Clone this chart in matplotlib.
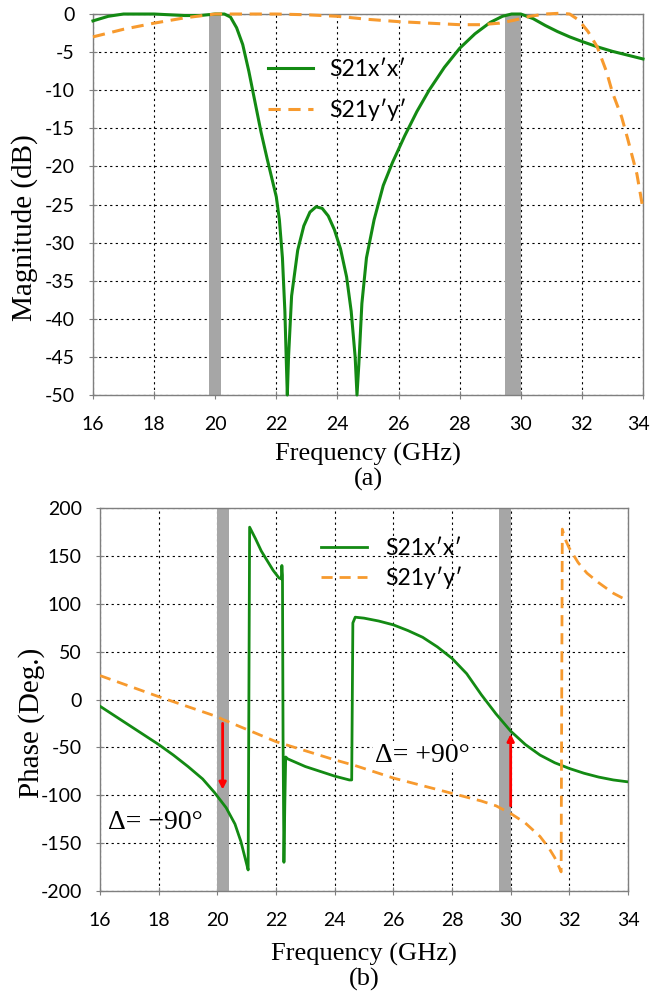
import numpy as np
import matplotlib
matplotlib.use("Agg")
import matplotlib.pyplot as plt
from matplotlib.transforms import ScaledTranslation

plt.rcParams['axes.unicode_minus'] = False

# --- magnitude (a) ---
f_mag_x = [16.0, 16.5, 17.0, 18.0, 19.0, 19.5, 20.0, 20.3, 20.5, 20.7, 20.9, 21.1, 21.3, 21.5, 21.7, 21.85,
           22.0, 22.1, 22.2, 22.28, 22.33, 22.36, 22.4, 22.5, 22.7, 22.9, 23.1, 23.3, 23.5, 23.7, 23.9,
           24.1, 24.3, 24.45, 24.58, 24.64, 24.7, 24.8, 24.95, 25.2, 25.5, 25.8, 26.2, 26.6, 27.0, 27.5,
           28.0, 28.5, 29.0, 29.4, 29.7, 30.0, 30.4, 30.8, 31.2, 31.6, 32.0, 32.5, 33.0, 33.5, 34.0]
s21_xx = [-0.9, -0.3, 0.0, 0.0, -0.2, -0.2, 0.0, 0.0, -0.4, -1.8, -4.0, -7.5, -11.5, -15.5, -19.0, -21.5,
          -24.0, -27.0, -32.0, -39.0, -46.0, -50.0, -45.0, -37.0, -31.0, -27.8, -26.0, -25.3, -25.5, -26.5, -28.3,
          -30.8, -34.5, -39.0, -45.0, -50.0, -46.0, -38.0, -32.0, -27.0, -22.5, -19.5, -16.0, -12.8, -10.0, -7.0,
          -4.5, -2.6, -1.1, -0.3, 0.0, 0.0, -0.6, -1.5, -2.3, -3.0, -3.6, -4.3, -4.9, -5.4, -5.9]

f_mag_y = [16.0, 17.0, 18.0, 19.0, 20.0, 21.0, 22.0, 23.0, 24.0, 25.0, 26.0, 27.0, 28.0, 28.7, 29.3, 29.8,
           30.3, 30.8, 31.3, 31.6, 31.9, 32.2, 32.5, 32.8, 33.0, 33.3, 33.5, 33.8, 34.0]
s21_yy = [-3.0, -2.0, -1.2, -0.5, 0.0, 0.0, 0.0, -0.1, -0.3, -0.7, -1.0, -1.2, -1.4, -1.4, -1.2, -0.8,
          -0.3, 0.0, 0.1, 0.0, -0.8, -2.3, -4.3, -7.5, -10.3, -13.5, -16.4, -21.0, -25.6]

# --- phase (b) ---
f_ph_x = [16.0, 16.5, 17.0, 17.5, 18.0, 18.5, 19.0, 19.5, 19.9, 20.3, 20.6, 20.8, 21.0, 21.05, 21.1, 21.3,
          21.5, 21.7, 21.9, 22.1, 22.18, 22.2, 22.22, 22.24, 22.27, 22.3, 22.33, 22.4, 23.0, 23.5, 24.0,
          24.5, 24.58, 24.62, 24.7, 25.0, 25.5, 26.0, 26.5, 27.0, 27.5, 28.0, 28.5, 29.0, 29.5, 30.0,
          30.5, 31.0, 31.5, 32.0, 32.5, 33.0, 33.5, 34.0]
ph_xx = [-7.0, -17.0, -27.0, -37.0, -47.0, -58.0, -70.0, -83.0, -97.0, -113.0, -130.0, -148.0, -172.0, -178.0, 180.0, 168.0,
         155.0, 145.0, 135.0, 127.0, 126.0, 140.0, 130.0, -40.0, -170.0, -110.0, -60.0, -62.0, -70.0, -75.0, -80.0,
         -84.0, -84.0, 80.0, 86.0, 85.0, 82.0, 78.0, 72.0, 65.0, 55.0, 43.0, 27.0, 5.0, -15.0, -33.0,
         -47.0, -58.0, -66.0, -72.0, -77.0, -81.0, -84.0, -86.0]

f_ph_y = [16.0, 18.0, 20.0, 20.2, 22.0, 24.0, 24.7, 26.0, 28.0, 29.0, 29.5, 30.0, 30.5, 31.0, 31.3, 31.5,
          31.65, 31.72, 31.76, 31.85, 32.0, 32.3, 32.6, 33.0, 33.5, 34.0]
ph_yy = [25.0, 3.0, -18.0, -21.0, -44.0, -63.0, -69.0, -82.0, -98.0, -106.0, -111.0, -119.0, -129.0, -143.0, -155.0, -165.0,
         -175.0, -180.0, 178.0, 168.0, 158.0, 143.0, 132.0, 122.0, 111.0, 103.0]

bands_a = [(19.8, 20.2), (29.5, 30.0)]
bands_b = [(20.0, 20.4), (29.6, 30.0)]

green = "#138a13"
orange = "#f79a2e"
band_col = "#a6a6a6"
tick_font = "Lato"
label_font = "Liberation Serif"

fig = plt.figure(figsize=(6.52, 9.94), dpi=100)
ax1 = fig.add_axes([0.1426, 0.6026, 0.8436, 0.3833])
ax2 = fig.add_axes([0.1534, 0.1036, 0.8098, 0.3853])


def style(ax, yticks):
    ax.set_xlim(16, 34)
    ax.set_xticks(np.arange(16, 35, 2))
    ax.set_yticks(yticks)
    ax.grid(True, color="black", linestyle=(0, (2, 3)), linewidth=0.8)
    ax.set_axisbelow(True)
    for s in ax.spines.values():
        s.set_color("#7f7f7f")
        s.set_linewidth(1.0)
    ax.tick_params(direction="inout", length=6, color="#7f7f7f", labelsize=14)
    ax.tick_params(axis="x", pad=12)
    ax.tick_params(axis="y", pad=10)
    for lab in ax.get_xticklabels() + ax.get_yticklabels():
        lab.set_fontfamily(tick_font)


# top panel
for a, b in bands_a:
    ax1.axvspan(a, b, color=band_col, zorder=1, lw=0)
ax1.plot(f_mag_x, s21_xx, color=green, lw=2.2, label="S21x\u2032x\u2032", zorder=3, clip_on=False)
ax1.plot(f_mag_y, s21_yy, color=orange, lw=2.2, ls=(0, (4, 2.5)), label="S21y\u2032y\u2032", zorder=3, clip_on=False)
ax1.set_ylim(-50, 0)
style(ax1, np.arange(-50, 1, 5))
ax1.set_ylabel("Magnitude (dB)", fontfamily=label_font, fontsize=21)
ax1.yaxis.set_label_coords(-0.10, 0.44)
ax1.set_xlabel("Frequency (GHz)\n(a)", fontfamily=label_font, fontsize=19, labelpad=7, linespacing=1.12)
ax1.legend(loc="upper left", bbox_to_anchor=(0.28, 0.935), frameon=False,
           prop={"family": tick_font, "size": 16.5}, handlelength=2.0, handletextpad=0.7,
           labelspacing=0.8)
last = ax1.get_xticklabels()[-1]
last.set_transform(last.get_transform() + ScaledTranslation(-5 / 100, 0, fig.dpi_scale_trans))

# bottom panel
for a, b in bands_b:
    ax2.axvspan(a, b, color=band_col, zorder=1, lw=0)
ax2.plot(f_ph_x, ph_xx, color=green, lw=2.0, label="S21x\u2032x\u2032", zorder=3)
ax2.plot(f_ph_y, ph_yy, color=orange, lw=2.0, ls=(0, (4, 2.5)), label="S21y\u2032y\u2032", zorder=3)
ax2.set_ylim(-200, 200)
style(ax2, np.arange(-200, 201, 50))
ax2.set_ylabel("Phase (Deg.)", fontfamily=label_font, fontsize=21)
ax2.yaxis.set_label_coords(-0.105, 0.44)
ax2.set_xlabel("Frequency (GHz)\n(b)", fontfamily=label_font, fontsize=19, labelpad=10, linespacing=1.12)
ax2.legend(loc="upper left", bbox_to_anchor=(0.38, 0.975), frameon=False,
           prop={"family": tick_font, "size": 16.5}, handlelength=2.0, handletextpad=0.8,
           labelspacing=0.3)

# arrows and delta labels
ax2.annotate("", xy=(20.18, -97), xytext=(20.18, -22),
             arrowprops=dict(arrowstyle="-|>", color="red", lw=2, mutation_scale=10), zorder=5)
ax2.annotate("", xy=(30.0, -33), xytext=(30.0, -114),
             arrowprops=dict(arrowstyle="-|>", color="red", lw=2, mutation_scale=10), zorder=5)
ax2.text(17.9, -128, "\u0394= \u221290\u00b0", fontfamily=label_font, fontsize=20,
         ha="center", va="center", zorder=6)
ax2.text(26.98, -58, "\u0394= +90\u00b0", fontfamily=label_font, fontsize=20,
         ha="center", va="center", zorder=6,
         bbox=dict(facecolor="white", edgecolor="none", pad=1))

fig.savefig("out.png", dpi=100)
